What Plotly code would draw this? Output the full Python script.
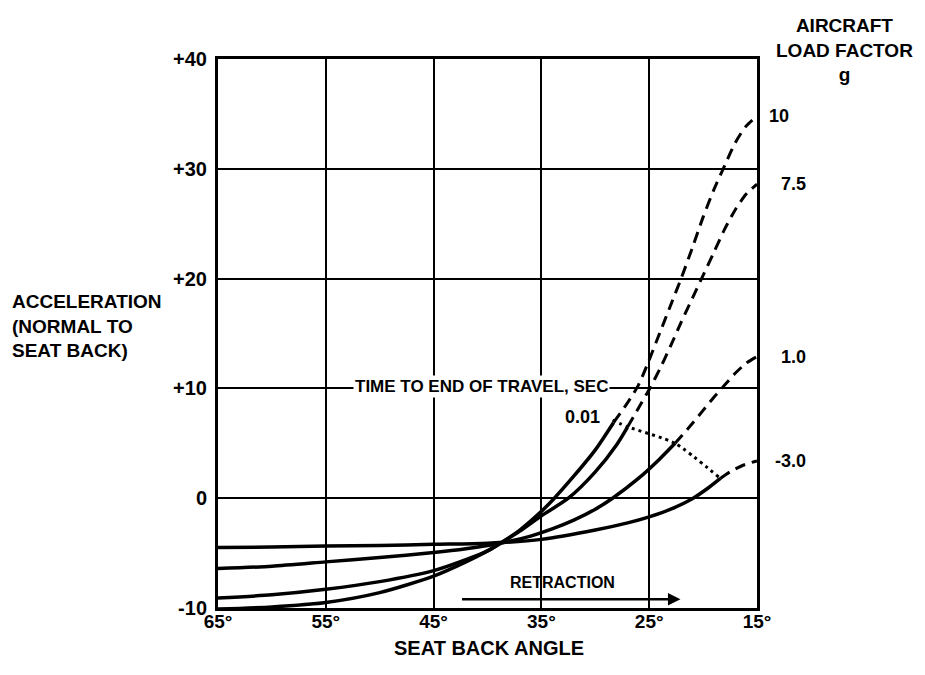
import plotly.graph_objects as go

# ---------------- data ----------------
x_tick_vals = [65, 55, 45, 35, 25, 15]
x_tick_text = ["65°", "55°", "45°", "35°", "25°", "15°"]
y_tick_vals = [40, 30, 20, 10, 0, -10]
y_tick_text = ["+40", "+30", "+20", "+10", "0", "-10"]

load_factor_labels = ["10", "7.5", "1.0", "-3.0"]

# load factor 10
lf10_solid_angle = [65, 60, 55, 50, 45, 42, 40, 38.8, 37, 35, 33.8, 32, 30, 28.3]
lf10_solid_value = [-10.1, -9.9, -9.5, -8.6, -7.1, -5.8, -4.8, -4.1, -2.9, -1.2, 0, 2.0, 4.4, 6.9]
lf10_dash_angle = [28.3, 27, 26, 25, 24, 23, 22, 21, 20, 19, 18, 17, 16, 15]
lf10_dash_value = [6.9, 8.7, 10.3, 12.6, 15.1, 17.6, 20.1, 22.8, 25.6, 28.1, 30.3, 32.4, 33.9, 34.8]

# load factor 7.5
lf75_solid_angle = [65, 60, 55, 50, 45, 42, 40, 38.8, 37, 35, 32.5, 30, 28, 27]
lf75_solid_value = [-9.1, -8.8, -8.3, -7.6, -6.6, -5.6, -4.8, -4.1, -3.0, -1.6, 0, 2.4, 4.9, 6.5]
lf75_dash_angle = [27, 26, 25, 24, 23, 22, 21, 20, 19, 18, 17, 16, 15]
lf75_dash_value = [6.5, 8.2, 9.9, 11.8, 13.9, 16.1, 18.2, 20.3, 22.4, 24.5, 26.3, 27.7, 28.6]

# load factor 1.0
lf1_solid_angle = [65, 60, 55, 50, 45, 42, 38.8, 36, 34, 32, 30, 28.4, 26, 24, 22.6]
lf1_solid_value = [-6.4, -6.2, -5.8, -5.4, -4.95, -4.6, -4.1, -3.45, -2.8, -2.0, -1.0, 0, 1.8, 3.6, 5.0]
lf1_dash_angle = [22.6, 21, 20, 19, 18, 17, 16, 15]
lf1_dash_value = [5.0, 6.8, 8.0, 9.2, 10.3, 11.4, 12.3, 12.9]

# load factor -3.0
lfm3_solid_angle = [65, 60, 55, 50, 45, 40, 35, 30, 27, 25, 23, 21, 19.5, 18.4]
lfm3_solid_value = [-4.5, -4.45, -4.35, -4.3, -4.2, -4.1, -3.75, -2.9, -2.25, -1.7, -1.0, -0.05, 0.95, 1.8]
lfm3_dash_angle = [18.4, 17.5, 16.3, 15]
lfm3_dash_value = [1.8, 2.4, 3.0, 3.4]

# end-of-travel line (0.01 sec)
travel_angle = [28.4, 27.0, 22.6, 18.4]
travel_value = [7.1, 6.5, 5.0, 1.8]

# retraction arrow range
retraction_from = 42.5
retraction_to = 22.1
retraction_level = -9.2

FONT = "Liberation Sans"

fig = go.Figure()

solid_sets = [
    (lf10_solid_angle, lf10_solid_value, lf10_dash_angle, lf10_dash_value),
    (lf75_solid_angle, lf75_solid_value, lf75_dash_angle, lf75_dash_value),
    (lf1_solid_angle, lf1_solid_value, lf1_dash_angle, lf1_dash_value),
    (lfm3_solid_angle, lfm3_solid_value, lfm3_dash_angle, lfm3_dash_value),
]

for sa, sv, da, dv in solid_sets:
    fig.add_trace(go.Scatter(x=sa, y=sv, mode="lines",
                             line=dict(color="black", width=3.5, shape="spline", smoothing=0.7),
                             showlegend=False, hoverinfo="skip"))
    fig.add_trace(go.Scatter(x=da, y=dv, mode="lines",
                             line=dict(color="black", width=3, dash="11px,7px", shape="spline", smoothing=0.7),
                             showlegend=False, hoverinfo="skip"))

fig.add_trace(go.Scatter(x=travel_angle, y=travel_value, mode="lines",
                         line=dict(color="black", width=3, dash="3px,4px", shape="spline", smoothing=0.6),
                         showlegend=False, hoverinfo="skip"))

ann = []
# right-side load-factor labels at curve ends
ends = [lf10_dash_value[-1], lf75_dash_value[-1], lf1_dash_value[-1], lfm3_dash_value[-1]]
xpos = [1.018, 1.04, 1.04, 1.03]
for lab, yv, xp in zip(load_factor_labels, ends, xpos):
    ann.append(dict(xref="paper", yref="y", x=xp, y=yv, text="<b>" + lab + "</b>",
                    showarrow=False, xanchor="left", yanchor="middle",
                    font=dict(family=FONT, size=18, color="black")))

ann.append(dict(xref="paper", yref="paper", x=1.163, y=1.016,
                text="<b>AIRCRAFT<br>LOAD FACTOR<br>g</b>", showarrow=False,
                xanchor="center", yanchor="middle", align="center",
                font=dict(family=FONT, size=19, color="black")))

ann.append(dict(xref="paper", yref="paper", x=-0.385, y=0.514,
                text="<b>ACCELERATION<br>(NORMAL TO<br>SEAT BACK)</b>", showarrow=False,
                xanchor="left", yanchor="middle", align="left",
                font=dict(family=FONT, size=19, color="black")))

ann.append(dict(xref="paper", yref="paper", x=0.503, y=-0.073,
                text="<b>SEAT BACK ANGLE</b>", showarrow=False,
                xanchor="center", yanchor="middle",
                font=dict(family=FONT, size=20, color="black")))

ann.append(dict(xref="x", yref="y", x=40.6, y=10.2,
                text="<b>TIME TO END OF TRAVEL, SEC</b>", showarrow=False,
                xanchor="center", yanchor="middle", bgcolor="white",
                font=dict(family=FONT, size=17, color="black")))

ann.append(dict(xref="x", yref="y", x=31.2, y=7.4,
                text="<b>0.01</b>", showarrow=False,
                xanchor="center", yanchor="middle",
                font=dict(family=FONT, size=18, color="black")))

ann.append(dict(xref="x", yref="y", x=33.0, y=-7.7,
                text="<b>RETRACTION</b>", showarrow=False,
                xanchor="center", yanchor="middle",
                font=dict(family=FONT, size=16, color="black")))

ann.append(dict(xref="x", yref="y", x=retraction_to, y=retraction_level,
                axref="x", ayref="y", ax=retraction_from, ay=retraction_level,
                text="", showarrow=True, arrowhead=2, arrowsize=1, arrowwidth=2.5,
                arrowcolor="black"))

fig.update_layout(
    template="none",
    width=925, height=675,
    margin=dict(l=218, r=168, t=59, b=67),
    paper_bgcolor="white", plot_bgcolor="white",
    annotations=ann,
    showlegend=False,
    xaxis=dict(range=[65, 15], tickmode="array", tickvals=x_tick_vals, ticktext=x_tick_text,
               showgrid=True, gridcolor="black", gridwidth=2,
               showline=True, linecolor="black", linewidth=3, mirror=True,
               zeroline=False, ticks="", automargin=False, ticklabelstandoff=-6,
               tickfont=dict(family=FONT, size=19, color="black", weight="bold")),
    yaxis=dict(range=[-10, 40], tickmode="array", tickvals=y_tick_vals, ticktext=y_tick_text,
               showgrid=True, gridcolor="black", gridwidth=2,
               showline=True, linecolor="black", linewidth=3, mirror=True,
               zeroline=False, ticks="", automargin=False, ticklabelstandoff=4,
               tickfont=dict(family=FONT, size=20, color="black", weight="bold")),
)

fig.write_html("out.html")
